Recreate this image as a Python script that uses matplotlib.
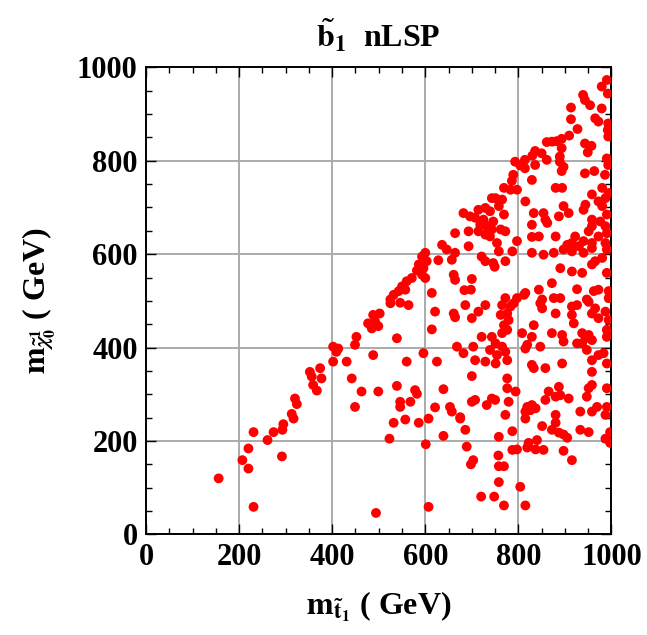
import numpy as np
import matplotlib
matplotlib.use("Agg")
import matplotlib.pyplot as plt
from matplotlib.ticker import MultipleLocator

plt.rcParams['font.family'] = ['Liberation Serif', 'DejaVu Serif']
plt.rcParams['font.weight'] = 'bold'
plt.rcParams['mathtext.fontset'] = 'stix'

# Punkte (m_stop, m_neutralino) in GeV
m_stop = [
    990, 979, 992, 939, 943, 954, 979, 913, 913, 965, 972, 993, 992, 927, 909, 893, 882, 872, 861, 993,
    943, 957, 949, 836, 850, 830, 814, 793, 804, 893, 889, 861, 990, 889, 897, 893, 836, 814, 829, 789,
    786, 943, 963, 986, 993,
    743, 729, 714, 739, 682, 696, 707, 725, 746, 718, 732, 743, 714, 729, 739, 693, 664, 693, 636, 646,
    664, 657, 628, 721, 729, 746, 749, 600, 593, 603, 586, 596, 582, 593, 600, 661, 664, 700, 698, 684,
    614, 571, 560, 550, 543, 532, 525, 557,
    769, 783, 797, 880, 894, 980, 994, 751, 765, 758, 815, 958, 972, 987, 944, 940, 980, 897, 908, 887,
    833, 854, 858, 862, 829, 990, 769, 958, 976, 987, 958, 951, 762, 772, 880, 844, 829, 922, 915, 905,
    930, 940, 958, 972, 990, 797, 754, 758, 787, 829, 854, 876, 897, 915, 940, 958, 987, 990, 772, 890,
    915, 937, 958, 965, 980, 990, 872, 844, 815, 926, 962, 972, 994, 772, 797, 812, 851, 876, 890, 947,
    994,
    488, 502, 477, 492, 499, 485, 452, 449, 402, 413, 409, 402, 431, 488, 352, 374, 356, 377, 359, 367,
    442, 463, 499, 320, 324, 449, 313, 317, 295,
    525, 546, 564, 539, 621, 661, 664, 686, 700, 714, 729, 614, 721, 743, 703, 668, 682, 739, 596, 625,
    560, 707, 729, 700, 539, 578, 582, 639, 546, 568, 546, 621, 653, 657, 675, 700, 707, 732, 743,
    765, 783, 790, 847, 851, 915, 926, 951, 965, 762, 776, 779, 769, 776, 765, 880, 915, 919, 958, 972,
    987, 994, 833, 808, 829, 872, 894, 897, 937, 944, 951, 958, 937, 926, 990, 990, 751, 765, 772, 754,
    815, 819, 847, 947, 983, 972, 776, 751, 829, 833, 858, 894, 958, 958, 990, 776, 776, 794, 865, 887,
    880, 890, 908, 951, 958, 947, 990, 750, 779, 819, 829, 837, 815, 826, 772, 858, 880, 933, 958, 969,
    990, 987,
    231, 274, 293, 261, 220, 292, 207, 220, 156, 231, 494,
    532, 557, 586, 607, 675, 523, 639, 686, 689, 601, 703, 698, 720, 748, 607,
    815, 880, 851, 787, 758, 933, 951, 872, 887, 897, 905, 987, 997, 997, 822, 819, 840, 837, 854, 787,
    797, 897, 915, 757, 758, 769, 758, 804, 769, 815,
]
m_neut = [
    973, 959, 944, 941, 930, 919, 912, 914, 889, 891, 884, 880, 866, 868, 854, 847, 842, 841, 840, 852,
    837, 832, 818, 821, 816, 811, 802, 798, 790, 827, 809, 802, 805, 798, 787, 778, 791, 784, 759, 770,
    757, 773, 778, 770, 791,
    720, 699, 695, 692, 688, 681, 678, 674, 670, 663, 660, 653, 649, 642, 638, 649, 645, 617, 620, 610,
    603, 588, 587, 595, 585, 581, 573, 603, 595, 585, 578, 570, 565, 556, 549, 556, 545, 547, 524, 523,
    517, 549, 542, 531, 521, 513, 503, 524,
    742, 738, 738, 742, 742, 742, 731, 720, 717, 703, 713, 728, 713, 720, 706, 695, 703, 703, 688, 681,
    688, 688, 674, 667, 663, 685, 685, 674, 670, 660, 660, 649, 653, 649, 638, 638, 637, 638, 624, 620,
    617, 628, 624, 638, 645, 628, 624, 606, 606, 603, 599, 603, 610, 606, 603, 613, 624, 610, 585, 570,
    563, 560, 578, 585, 592, 560, 538, 524, 517, 525, 521, 524, 521, 506, 506, 513, 503, 506, 506, 503,
    506,
    470, 473, 452, 456, 446, 441, 423, 406, 402, 398, 391, 370, 370, 384, 348, 356, 338, 334, 320, 308,
    334, 306, 306, 291, 279, 273, 258, 248, 236,
    495, 496, 491, 420, 477, 473, 465, 491, 463, 477, 491, 439, 423, 423, 402, 402, 388, 395, 388, 370,
    370, 373, 370, 339, 318, 309, 301, 311, 284, 284, 273, 272, 273, 263, 251, 284, 288, 277, 291,
    491, 488, 495, 495, 484, 488, 491, 498, 484, 470, 473, 459, 448, 438, 431, 473, 470, 452, 473, 463,
    477, 459, 448, 431, 423, 431, 427, 413, 431, 420, 427, 416, 409, 409, 438, 423, 409, 402, 391, 384,
    398, 406, 402, 395, 388, 384, 373, 366, 363, 356, 356, 366, 373, 348, 366, 334, 313, 306, 306, 316,
    295, 298, 291, 313, 320, 295, 313, 288, 284, 273, 277, 270, 263, 266, 256, 288, 256, 263, 263, 273,
    273, 256,
    219, 219, 224, 202, 184, 167, 159, 141, 120, 59, 46,
    239, 246, 239, 248, 248, 205, 211, 224, 188, 193, 159, 150, 81, 81, 59,
    248, 239, 232, 221, 209, 224, 219, 224, 218, 214, 207, 205, 219, 196, 196, 186, 202, 182, 181, 181,
    182, 179, 159, 169, 146, 146, 112, 102, 62, 62,
]

fig = plt.figure(figsize=(6.47, 6.35), dpi=100)
ax = fig.add_axes([0.2257, 0.1584, 0.7194, 0.7355])

ax.scatter(m_stop, m_neut, s=50, color='#ff0000', edgecolors='none', zorder=3)

ax.set_xlim(0, 1000)
ax.set_ylim(0, 1000)
ax.xaxis.set_major_locator(MultipleLocator(200))
ax.yaxis.set_major_locator(MultipleLocator(200))
ax.xaxis.set_minor_locator(MultipleLocator(50))
ax.yaxis.set_minor_locator(MultipleLocator(50))
ax.grid(True, which='major', color='#ababab', lw=1.4, zorder=1)
ax.tick_params(which='both', direction='in', top=True, right=True, width=1.0, labelsize=22)
ax.tick_params(which='major', length=7, pad=6)
ax.tick_params(which='minor', length=4)
for sp in ax.spines.values():
    sp.set_linewidth(1.4)

ax.set_title(r'$\tilde{\mathbf{b}}_\mathbf{1}$  nLSP', fontsize=23, fontweight='bold', pad=14)
ax.set_xlabel(r'$\mathbf{m}_{\tilde{\mathbf{t}}_\mathbf{1}}$ ( GeV)', fontsize=23, fontweight='bold', labelpad=13)
ax.set_ylabel(r'$\mathbf{m}_{\tilde{\chi}^{\mathbf{1}}_{\mathbf{0}}}$ ( GeV)', fontsize=23, fontweight='bold', labelpad=14)

fig.savefig('out.png', dpi=100)
